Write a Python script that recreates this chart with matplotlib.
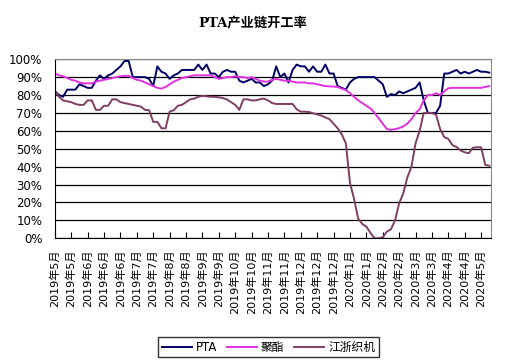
import numpy as np
import matplotlib
matplotlib.use("Agg")
import matplotlib.pyplot as plt
from matplotlib.ticker import FuncFormatter

plt.rcParams['font.family'] = ['DejaVu Sans', 'Noto Sans CJK SC']

# Data (in %)
tick_labels = ["2019年5月", "2019年5月", "2019年6月", "2019年6月", "2019年6月",
               "2019年7月", "2019年7月", "2019年8月", "2019年8月", "2019年9月",
               "2019年9月", "2019年10月", "2019年10月", "2019年11月", "2019年11月",
               "2019年12月", "2019年12月", "2019年12月", "2020年1月", "2020年1月",
               "2020年2月", "2020年2月", "2020年3月", "2020年3月", "2020年4月",
               "2020年4月", "2020年5月"]

pta = [82, 80, 79, 83, 83, 83, 86, 85, 84, 84,
       88, 91, 89, 91, 92, 94, 96, 99, 99, 90,
       90, 90, 90, 89, 85, 96, 93, 92, 89, 91,
       92, 94, 94, 94, 94, 97, 94, 97, 92, 92,
       90, 93, 94, 93, 93, 88, 87, 88, 89, 87,
       87, 85, 86, 88, 96, 90, 92, 87, 94, 97,
       96, 96, 93, 96, 93, 93, 97, 92, 92, 85,
       84, 83, 87, 89, 90, 90, 90, 90, 90, 88,
       86, 79, 80.5, 80, 82, 81, 82, 83, 84, 87,
       77, 70, 70, 70, 74, 92, 92, 93, 94, 92,
       93, 92, 93, 94, 93, 93, 92.5]

polyester = [92, 91, 90.5, 89.5, 88.5, 88, 87, 86.5, 86.5, 86.5,
             87.5, 88, 88.5, 89, 89.5, 90, 90.5, 90.7, 90.7, 89.5,
             88.5, 88, 87, 86, 85, 84, 83.6, 84.5, 86, 87.5,
             88.5, 89.5, 90, 90.5, 91, 91, 91, 91, 91, 90,
             89, 89.5, 90, 90, 90.5, 90, 90, 89.5, 90, 89,
             88, 87.5, 87.5, 88.5, 89, 88.5, 88, 88, 87.5, 87,
             87, 87, 86.5, 86.5, 86, 85.5, 85, 84.8, 84.7, 84.5,
             83.5, 82.8, 81, 79, 77, 75.5, 74, 72.5, 70, 67,
             64, 61, 60.5, 61, 61.5, 62.5, 64, 66.5, 70, 72,
             77, 80, 80, 81, 80, 82, 83.8, 84, 84, 84,
             84, 84, 84, 84, 84, 84.5, 85]

weaving = [82.5, 79, 77, 76.5, 76, 75, 74.5, 74.5, 77, 77,
           71.7, 71.7, 74, 74, 77.6, 77.6, 76, 75.5, 75, 74.5,
           74, 73.5, 71.7, 71.5, 65, 65, 61.4, 61.4, 70.7, 71.5,
           74, 74.5, 76, 77.6, 78, 79, 79.5, 79.3, 79, 79,
           78.7, 78.3, 77.5, 76, 74.5, 71.7, 77.6, 77.6, 77, 77,
           77.6, 78, 77, 75.5, 75, 75, 75, 75, 75, 72,
           70.7, 70.7, 70.5, 69.8, 69.2, 68.5, 67.5, 66.5, 64, 61.4,
           58, 53, 31, 22, 11, 8, 6.5, 3, 0, 0,
           0.5, 3.7, 5, 10, 19.5, 25, 34, 40, 53, 60,
           70, 70, 70, 69, 61, 56.5, 55.5, 52, 51, 49,
           48, 47.5, 50.6, 50.8, 50.8, 41, 40.5]

x = np.arange(len(pta))

fig = plt.figure(figsize=(5.13, 3.61), dpi=100)
ax = fig.add_axes([0.107, 0.340, 0.850, 0.496])

ax.plot(x, pta, color='#000066', lw=1.4, label='PTA')
ax.plot(x, polyester, color='#e030e0', lw=1.4, label='聚酯')
ax.plot(x, weaving, color='#7f3f62', lw=1.4, label='江浙织机')

ax.set_xlim(0, len(pta) - 0.6)
ax.set_ylim(0, 100)
ax.set_yticks(np.arange(0, 101, 10))
ax.yaxis.set_major_formatter(FuncFormatter(lambda v, p: f"{int(v)}%"))
ax.tick_params(axis='y', length=0, labelsize=8.5, pad=9)
ax.set_xticks(np.arange(0, len(tick_labels) * 4, 4))
ax.set_xticklabels(tick_labels, rotation=90, fontsize=8)
ax.tick_params(axis='x', direction='in', length=4, pad=8)

ax.grid(axis='y', color='black', lw=0.9)
ax.set_axisbelow(True)
for s in ['top', 'right']:
    ax.spines[s].set_color('#888888')
for s in ['left', 'bottom']:
    ax.spines[s].set_color('black')

fig.text(0.492, 0.936, 'PTA产业链开工率', ha='center', va='center',
         fontsize=9.5, fontweight='bold', family=['DejaVu Serif', 'Noto Sans CJK SC'])

leg = fig.legend(loc='center', bbox_to_anchor=(0.523, 0.038), ncol=3,
                 fontsize=8.5, frameon=True, fancybox=False, handlelength=2.6,
                 handletextpad=0.3, columnspacing=0.8, borderpad=0.3)
leg.get_frame().set_edgecolor('black')
leg.get_frame().set_linewidth(1)

fig.savefig('out.png', dpi=100)
